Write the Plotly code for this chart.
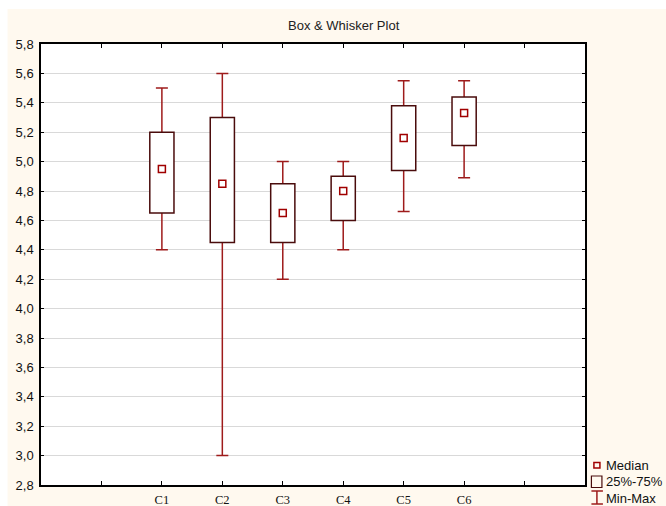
import plotly.graph_objects as go

categories = ["C1", "C2", "C3", "C4", "C5", "C6"]
q1 = [4.65, 4.45, 4.45, 4.60, 4.94, 5.11]
median = [4.95, 4.85, 4.65, 4.80, 5.16, 5.33]
q3 = [5.20, 5.30, 4.85, 4.90, 5.38, 5.44]
mins = [4.40, 3.00, 4.20, 4.40, 4.66, 4.89]
maxs = [5.50, 5.60, 5.00, 5.00, 5.55, 5.55]
y_ticks = [2.8 + 0.2 * i for i in range(16)]

BOX_C = "#4a0c0c"
WHISK_C = "#9e1b1b"
MED_C = "#a00000"
CREAM = "#FFF9EF"

fig = go.Figure()

# whiskers (Min-Max): invisible bars ending at the median, error bars to min/max
fig.add_trace(go.Bar(
    x=categories, y=[m - a for m, a in zip(median, q1)], base=q1,
    width=0.4, marker=dict(color="rgba(0,0,0,0)", line=dict(width=0)),
    error_y=dict(type="data", symmetric=False,
                 array=[mx - m for mx, m in zip(maxs, median)],
                 arrayminus=[m - mn for m, mn in zip(median, mins)],
                 color=WHISK_C, thickness=1.5, width=6),
    showlegend=False, hoverinfo="skip"))

# boxes (25%-75%) drawn above the whisker lines
fig.add_trace(go.Bar(
    x=categories, y=[b - a for a, b in zip(q1, q3)], base=q1,
    width=0.4, marker=dict(color="white", line=dict(color=BOX_C, width=1.5)),
    showlegend=False, hoverinfo="skip"))

# medians
fig.add_trace(go.Scatter(
    x=categories, y=median, mode="markers",
    marker=dict(symbol="square-open", size=7, color=MED_C, line=dict(width=1.5, color=MED_C)),
    showlegend=False))

cat_array = [" "] + categories + ["  "]

fig.update_layout(
    width=666, height=506,
    margin=dict(l=41, r=81, t=44, b=21),
    paper_bgcolor=CREAM, plot_bgcolor="white",
    separators=", ",
    showlegend=False,
    barmode="overlay",
    font=dict(family="Liberation Sans, Arial", size=12, color="#111"),
    xaxis=dict(
        type="category", categoryorder="array", categoryarray=cat_array,
        range=[-1, 8], showgrid=False, zeroline=False, automargin=False,
        showline=True, linecolor="black", linewidth=1.5, mirror="ticks",
        ticks="inside", ticklen=4, tickcolor="black", tickwidth=1,
        tickfont=dict(family="Liberation Serif, Times New Roman", size=12.5, color="#111"),
        ticklabelstandoff=2,
    ),
    yaxis=dict(
        range=[2.8, 5.8], tickvals=y_ticks, tickformat=".1f",
        showgrid=True, gridcolor="#d9d9d9", gridwidth=1, zeroline=False, automargin=False,
        showline=True, linecolor="black", linewidth=1.5, mirror="ticks",
        ticks="inside", ticklen=3, tickcolor="black",
        tickfont=dict(family="Liberation Sans, Arial", size=13, color="#111"),
        ticklabelstandoff=3,
    ),
)

# white strips at top and left (outside cream panel)
fig.add_shape(type="rect", xref="paper", yref="paper", x0=-0.1, x1=1.2,
              y0=(485 - 9) / 441, y1=1.2, fillcolor="white", line_width=0, layer="below")
fig.add_shape(type="rect", xref="paper", yref="paper", x0=-0.1, x1=(8 - 41.4) / 543.2,
              y0=-0.1, y1=1.2, fillcolor="white", line_width=0, layer="below")

# title
fig.add_annotation(text="Box & Whisker Plot", xref="paper", yref="paper",
                   x=(344 - 41.4) / 543.2, y=(485 - 26) / 441, showarrow=False,
                   font=dict(size=13, color="#222"), xanchor="center", yanchor="middle")

# legend (custom)
def px_x(px):
    return (px - 41.4) / 543.2

def px_y(py):
    return (485 - py) / 441

legend_items = [("Median", 465.5), ("25%-75%", 481.5), ("Min-Max", 498)]
for name, yy in legend_items:
    fig.add_annotation(text=name, xref="paper", yref="paper", x=px_x(604), y=px_y(yy),
                       xanchor="left", yanchor="middle", showarrow=False,
                       font=dict(size=13, color="#111"))
# median glyph
fig.add_shape(type="rect", xref="paper", yref="paper", x0=px_x(593.5), x1=px_x(599.5),
              y0=px_y(468), y1=px_y(462.5), line=dict(color=MED_C, width=1.5), fillcolor="rgba(0,0,0,0)")
# box glyph
fig.add_shape(type="rect", xref="paper", yref="paper", x0=px_x(591), x1=px_x(601.5),
              y0=px_y(487.5), y1=px_y(476), line=dict(color=BOX_C, width=1.2), fillcolor="rgba(0,0,0,0)")
# whisker glyph
fig.add_shape(type="line", xref="paper", yref="paper", x0=px_x(596.5), x1=px_x(596.5),
              y0=px_y(504), y1=px_y(491), line=dict(color=WHISK_C, width=1.5))
fig.add_shape(type="line", xref="paper", yref="paper", x0=px_x(591), x1=px_x(602.5),
              y0=px_y(491), y1=px_y(491), line=dict(color=WHISK_C, width=1.5))
fig.add_shape(type="line", xref="paper", yref="paper", x0=px_x(591), x1=px_x(602.5),
              y0=px_y(504), y1=px_y(504), line=dict(color=WHISK_C, width=1.5))

fig.write_html("out.html", config={"displayModeBar": False},
               post_script="document.body.style.margin='0px';")
